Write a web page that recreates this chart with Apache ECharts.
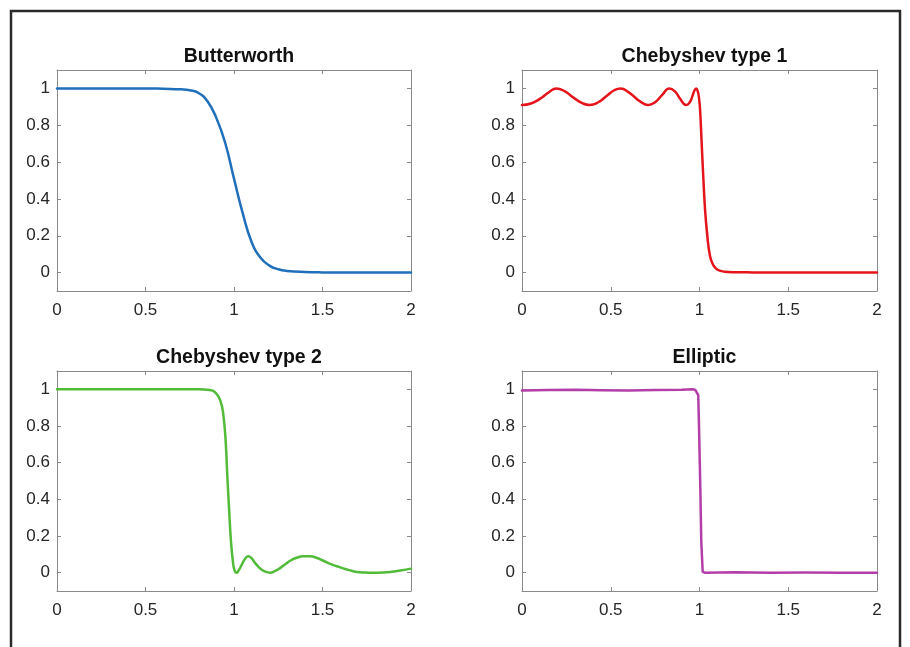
<!DOCTYPE html>
<html>
<head>
<meta charset="utf-8">
<script src="https://cdn.jsdelivr.net/npm/echarts@6/dist/echarts.min.js"></script>
<style>
  html, body { margin: 0; padding: 0; background: #fff; }
  #chart { width: 910px; height: 647px; }
</style>
</head>
<body>
<div id="chart"></div>
<script>
// ---------- data ----------
const titles = ['Butterworth', 'Chebyshev type 1', 'Chebyshev type 2', 'Elliptic'];
const xTicks = [0, 0.5, 1, 1.5, 2];
const yTicks = [0, 0.2, 0.4, 0.6, 0.8, 1];

const butterX = [0, 0.2, 0.4, 0.5, 0.6, 0.7, 0.75, 0.8, 0.85, 0.9, 0.95, 1.0, 1.05, 1.1, 1.15, 1.2, 1.25, 1.3, 1.4, 1.5, 1.75, 2.0];
const butterY = [1, 1, 1, 1, 0.998, 0.995, 0.99, 0.975, 0.93, 0.84, 0.705, 0.51, 0.32, 0.165, 0.08, 0.038, 0.018, 0.009, 0.003, 0.001, 0, 0];

const cheb1X = [0, 0.05, 0.1, 0.15, 0.194, 0.24, 0.29, 0.34, 0.382, 0.43, 0.48, 0.52, 0.555, 0.6, 0.65, 0.69, 0.711, 0.75, 0.79, 0.83, 0.86, 0.89, 0.91, 0.926, 0.945, 0.96, 0.972, 0.981, 0.99, 0.997, 1.003, 1.012, 1.021, 1.031, 1.044, 1.059, 1.075, 1.09, 1.11, 1.14, 1.2, 1.3, 1.5, 2.0];
const cheb1Y = [0.91, 0.918, 0.943, 0.978, 1.0, 0.985, 0.95, 0.92, 0.91, 0.925, 0.962, 0.99, 1.0, 0.98, 0.94, 0.915, 0.91, 0.925, 0.965, 1.0, 0.985, 0.945, 0.918, 0.91, 0.925, 0.958, 0.99, 1.0, 0.985, 0.95, 0.888, 0.707, 0.526, 0.346, 0.2, 0.092, 0.045, 0.025, 0.012, 0.005, 0.002, 0.001, 0, 0];

const cheb2X = [0, 0.4, 0.7, 0.8, 0.86, 0.9, 0.925, 0.94, 0.953, 0.962, 0.972, 0.983, 0.996, 1.005, 1.015, 1.028, 1.044, 1.062, 1.081, 1.1, 1.119, 1.14, 1.157, 1.18, 1.204, 1.23, 1.26, 1.29, 1.317, 1.35, 1.392, 1.43, 1.47, 1.505, 1.55, 1.6, 1.65, 1.694, 1.74, 1.788, 1.84, 1.883, 1.94, 2.0];
const cheb2Y = [1, 1, 1, 1, 0.997, 0.977, 0.931, 0.859, 0.715, 0.533, 0.352, 0.17, 0.044, 0.008, 0, 0.015, 0.044, 0.075, 0.089, 0.078, 0.053, 0.03, 0.016, 0.004, 0, 0.008, 0.025, 0.046, 0.065, 0.08, 0.089, 0.089, 0.08, 0.065, 0.045, 0.029, 0.014, 0.004, 0.001, 0, 0.001, 0.004, 0.012, 0.022];

const ellipX = [0, 0.15, 0.3, 0.45, 0.6, 0.75, 0.9, 0.96, 0.975, 0.985, 0.993, 0.999, 1.005, 1.01, 1.018, 1.03, 1.2, 1.4, 1.6, 1.8, 2.0];
const ellipY = [0.993, 0.996, 0.998, 0.995, 0.993, 0.997, 0.998, 1.0, 0.998, 0.99, 0.969, 0.72, 0.443, 0.17, 0.005, 0, 0.002, 0, 0.001, 0, 0];

// ---------- layout / style ----------
const FONT = '"Liberation Sans", Arial, Helvetica, sans-serif';
const BOX = '#8a8a8a';
const TXT = '#262626';
const panels = [
  { x: butterX, y: butterY, color: '#1f6fba', smooth: 0.5, grid: { left: 57, top: 70, width: 354, height: 221 } },
  { x: cheb1X, y: cheb1Y, color: '#e5141b', smooth: 0.5, grid: { left: 522, top: 70, width: 355, height: 221 } },
  { x: cheb2X, y: cheb2Y, color: '#52bb3a', smooth: 0.5, grid: { left: 57, top: 371, width: 354, height: 220 } },
  { x: ellipX, y: ellipY, color: '#b43ea9', smooth: false, grid: { left: 522, top: 371, width: 355, height: 220 } }
];

const grids = [], xAxes = [], yAxes = [], series = [], titleOpts = [];
const fmt = v => String(+(+v).toFixed(2));

panels.forEach((p, i) => {
  grids.push(Object.assign({ containLabel: false }, p.grid));
  const xBase = {
    gridIndex: i, type: 'value', min: 0, max: 2, interval: 0.5,
    splitLine: { show: false },
    axisLine: { show: true, onZero: false, lineStyle: { color: BOX, width: 1 } },
    axisTick: { show: true, inside: true, length: 4, lineStyle: { color: BOX } }
  };
  xAxes.push(Object.assign({}, xBase, {
    position: 'bottom',
    axisLabel: { show: true, color: TXT, fontSize: 17, fontFamily: FONT, margin: 11, formatter: fmt, customValues: xTicks }
  }));
  xAxes.push(Object.assign({}, xBase, { position: 'top', axisLabel: { show: false } }));
  const yBase = {
    gridIndex: i, type: 'value', min: -0.1, max: 1.1,
    splitLine: { show: false },
    axisLine: { show: true, onZero: false, lineStyle: { color: BOX, width: 1 } },
    axisTick: { show: true, inside: true, length: 4, lineStyle: { color: BOX }, customValues: yTicks }
  };
  yAxes.push(Object.assign({}, yBase, {
    position: 'left',
    axisLabel: { show: true, color: TXT, fontSize: 17, fontFamily: FONT, margin: 7, formatter: fmt, customValues: yTicks }
  }));
  yAxes.push(Object.assign({}, yBase, { position: 'right', axisLabel: { show: false } }));
  series.push({
    type: 'line', xAxisIndex: 2 * i, yAxisIndex: 2 * i,
    data: p.x.map((v, k) => [v, p.y[k]]),
    showSymbol: false, symbol: 'none',
    smooth: p.smooth,
    lineStyle: { color: p.color, width: 2.5, join: 'round', cap: 'round' },
    animation: false, silent: true
  });
  titleOpts.push({
    text: titles[i],
    left: p.grid.left + p.grid.width / 2, top: p.grid.top - 28,
    textAlign: 'center',
    textStyle: { fontFamily: FONT, fontSize: 19.5, fontWeight: 'bold', color: '#111' }
  });
});

const chart = echarts.init(document.getElementById('chart'), null, { renderer: 'canvas' });
chart.setOption({
  backgroundColor: '#ffffff',
  animation: false,
  title: titleOpts,
  grid: grids,
  xAxis: xAxes,
  yAxis: yAxes,
  series: series,
  graphic: [{
    type: 'rect', silent: true,
    shape: { x: 11, y: 11, width: 889, height: 700 },
    style: { fill: 'none', stroke: '#2a2a2a', lineWidth: 2.5 }
  }]
});
</script>
</body>
</html>
